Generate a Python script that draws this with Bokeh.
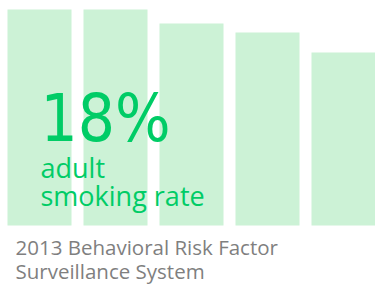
from bokeh.plotting import figure
from bokeh.models import Range1d, Label
from bokeh.embed import file_html
from bokeh.resources import INLINE

# Data
bar_index = [0, 1, 2, 3, 4]
bar_values = [21.6, 21.6, 20.2, 19.3, 17.3]
headline = "18%"
subtitle_lines = ["adult", "smoking rate"]
source_lines = ["2013 Behavioral Risk Factor", "Surveillance System"]

W, H = 375, 285
PITCH = 76.0  # px per x unit
YS = 10.0     # px per y unit
x0 = -39.0 / PITCH
y_top = 22.5

p = figure(width=W, height=H, output_backend="svg", toolbar_location=None,
           x_range=Range1d(x0, x0 + W / PITCH),
           y_range=Range1d(y_top - H / YS, y_top),
           min_border=0)
p.axis.visible = False
p.grid.visible = False
p.outline_line_color = None
p.background_fill_color = "white"
p.border_fill_color = "white"

p.vbar(x=bar_index, top=bar_values, bottom=0, width=64 / PITCH,
       fill_color="#ccf2d6", line_color=None)

def dx(px):
    return x0 + px / PITCH

def dy(py, size):
    # compensate for label baseline placement (~0.36em)
    return y_top - (py - 0.36 * size) / YS

GREEN = "#00cc66"
GRAY = "#7f7f7f"

def add_text(text, px, py, size, color, font):
    p.add_layout(Label(x=dx(px), y=dy(py, size), text=text,
                       text_font=font, text_font_size=f"{size}px",
                       text_color=color, text_baseline="alphabetic",
                       text_align="left"))

add_text(headline, 40, 141, 65, GREEN, "DejaVu Sans Condensed, DejaVu Sans")
for line, by in zip(subtitle_lines, [177, 205]):
    add_text(line, 40, by, 27, GREEN, "Open Sans")
for line, by in zip(source_lines, [254, 278]):
    add_text(line, 15, by, 20.5, GRAY, "Open Sans")

open("out.html", "w").write(file_html(p, INLINE))
